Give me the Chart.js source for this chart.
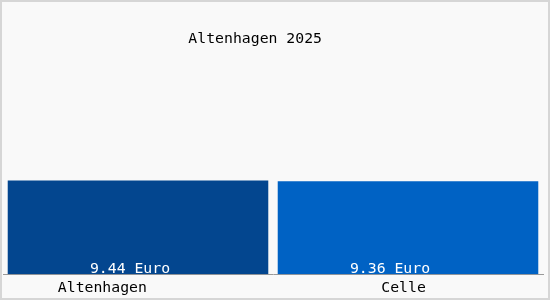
<!doctype html>
<html lang="de">
<head>
<meta charset="UTF-8">
<title>Altenhagen 2025</title>
<script src="https://cdn.jsdelivr.net/npm/chart.js"></script>
<style>
  body { margin: 0; background: #fff; }
  .wrap { width: 546px; height: 296px; border: 2px solid #d6d6d6; background: #f9f9f9; }
</style>
</head>
<body>
<div class="wrap"><canvas id="chart" width="546" height="296"></canvas></div>
<script>
const categories = ['Altenhagen', 'Celle'];
const prices = [9.44, 9.36];
const barColors = ['#03468f', '#0062c4'];
const unit = 'Euro';
const titleText = 'Altenhagen 2025';

const monoFont = { family: '"DejaVu Sans Mono", monospace', size: 14.8, weight: 'normal' };

// draws "9.44 Euro" at the bottom of each bar
const valueLabels = {
  id: 'valueLabels',
  afterDatasetsDraw(chart) {
    const ctx = chart.ctx;
    const meta = chart.getDatasetMeta(0);
    ctx.save();
    ctx.font = monoFont.size + 'px ' + monoFont.family;
    ctx.fillStyle = '#ffffff';
    ctx.textAlign = 'center';
    ctx.textBaseline = 'middle';
    const shift = [-8, -18];
    meta.data.forEach((bar, i) => {
      ctx.fillText(prices[i].toFixed(2) + ' ' + unit, bar.x + shift[i], bar.base - 5);
    });
    ctx.restore();
  }
};

new Chart(document.getElementById('chart'), {
  type: 'bar',
  data: {
    labels: categories,
    datasets: [{
      data: prices,
      backgroundColor: barColors,
      borderWidth: 0,
      barPercentage: 0.965,
      categoryPercentage: 1
    }]
  },
  options: {
    responsive: false,
    animation: false,
    layout: { padding: { left: 1, right: 5, top: 0, bottom: -4 } },
    plugins: {
      legend: { display: false },
      tooltip: { enabled: false },
      title: {
        display: true,
        // trailing spaces pull the centred title a bit to the left
        text: titleText + '    ',
        color: '#000',
        font: monoFont,
        padding: { top: 28, bottom: 28 }
      }
    },
    scales: {
      x: {
        grid: { display: false, drawTicks: false },
        border: { display: true, color: '#999', width: 1 },
        ticks: {
          color: '#000',
          font: monoFont,
          padding: 5,
          callback(v, i) {
            // nudge the labels left like the original
            return categories[i] + ' '.repeat(i === 0 ? 8 : 1);
          }
        }
      },
      y: {
        display: false,
        min: 0,
        max: 20
      }
    }
  },
  plugins: [valueLabels]
});
</script>
</body>
</html>
